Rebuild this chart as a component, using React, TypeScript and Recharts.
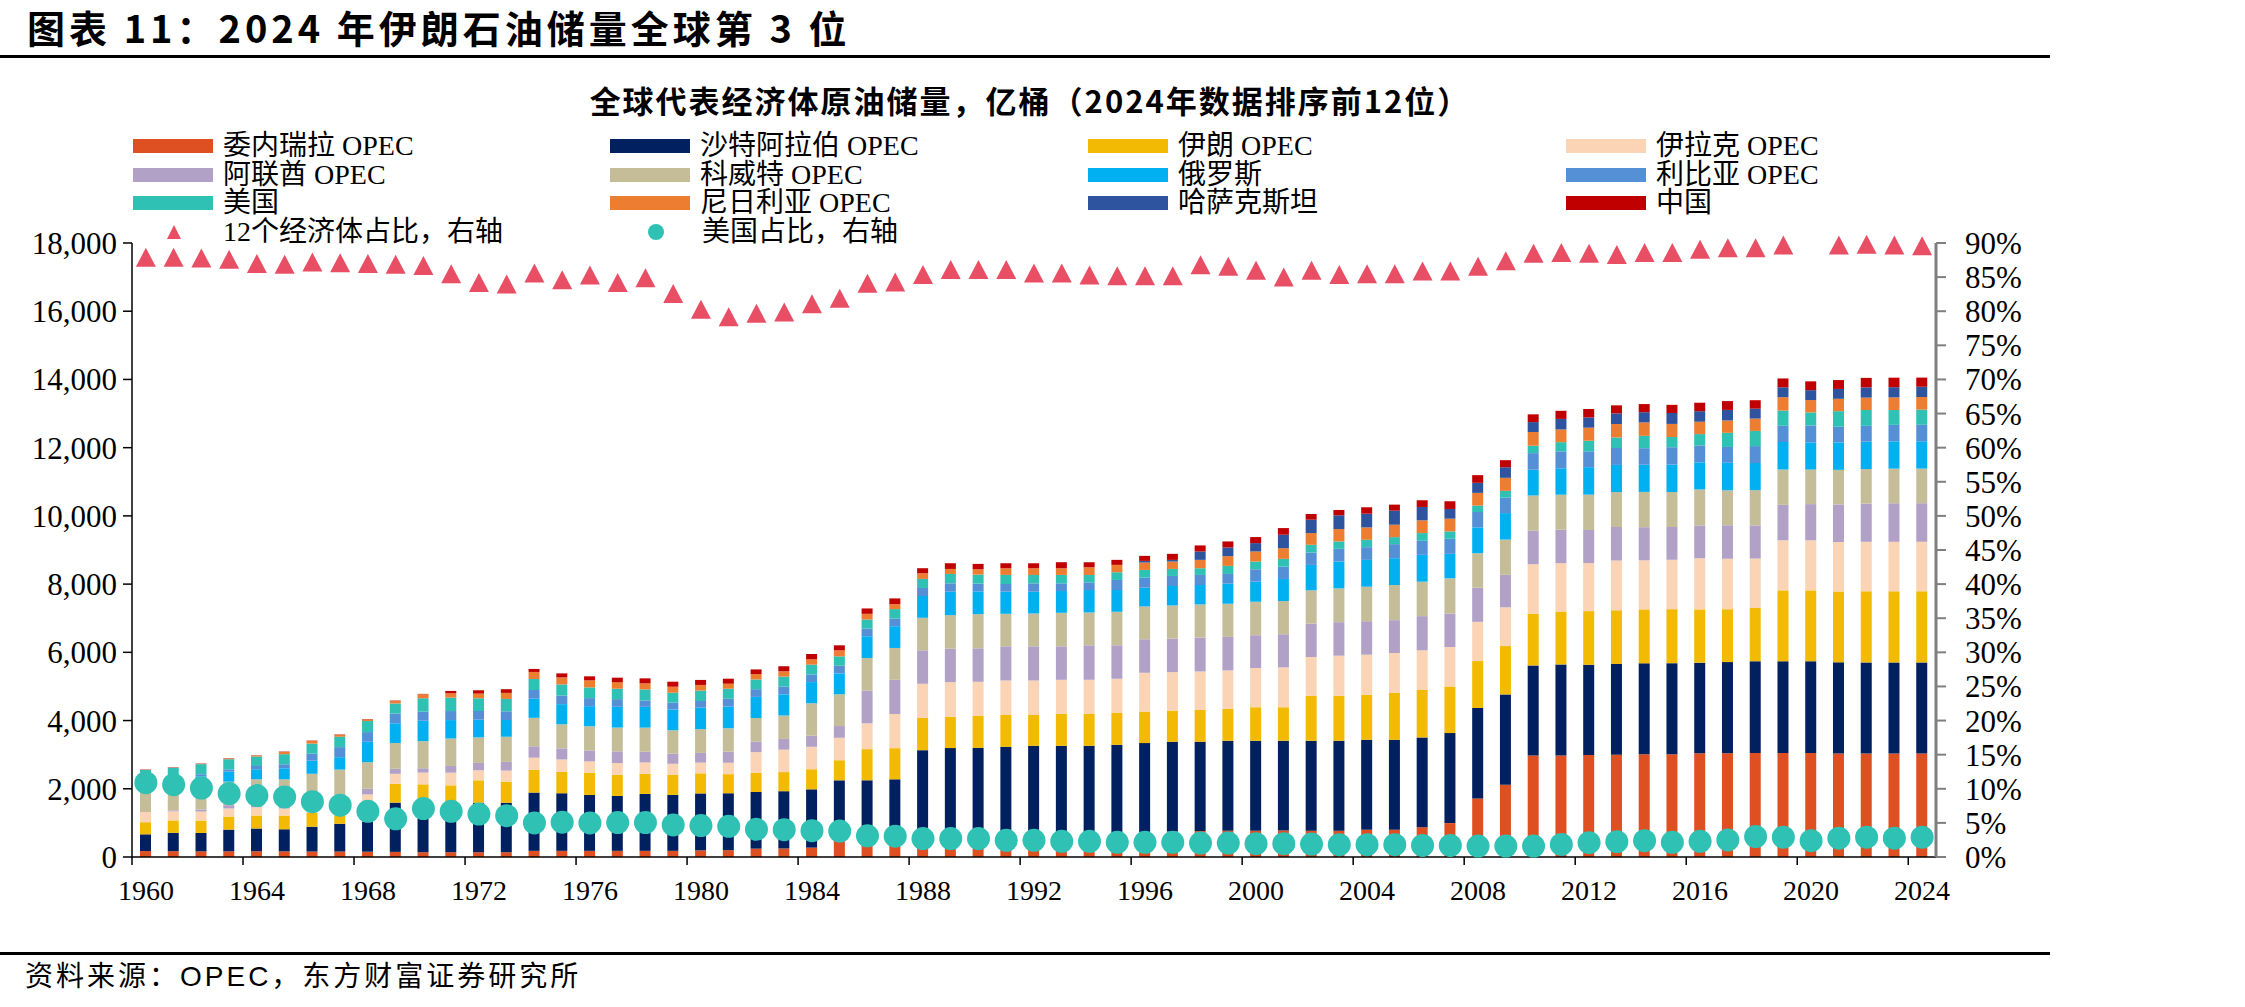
import React from "react";
import { ComposedChart, Bar, Line, XAxis, YAxis } from "recharts";

// 原油储量，亿桶；份额，%
const YEARS = [
  1960, 1961, 1962, 1963, 1964, 1965, 1966, 1967, 1968, 1969,
  1970, 1971, 1972, 1973, 1974, 1975, 1976, 1977, 1978, 1979,
  1980, 1981, 1982, 1983, 1984, 1985, 1986, 1987, 1988, 1989,
  1990, 1991, 1992, 1993, 1994, 1995, 1996, 1997, 1998, 1999,
  2000, 2001, 2002, 2003, 2004, 2005, 2006, 2007, 2008, 2009,
  2010, 2011, 2012, 2013, 2014, 2015, 2016, 2017, 2018, 2019,
  2020, 2021, 2022, 2023, 2024,
];

const VENEZUELA = [
  175, 170, 165, 165, 165, 165, 160, 160, 155, 150,
  140, 140, 140, 140, 180, 180, 180, 180, 180, 180,
  195, 200, 245, 250, 275, 549, 555, 581, 585, 590,
  601, 626, 633, 644, 649, 663, 727, 749, 761, 768,
  768, 777, 773, 772, 797, 800, 873, 994, 1718, 2120,
  2978, 2978, 2990, 2995, 3010, 3015, 3040, 3045, 3050, 3050,
  3050, 3035, 3032, 3032, 3032,
];
const SAUDI = [
  490, 540, 540, 638, 668, 648, 727, 815, 890, 1444,
  1410, 1450, 1450, 1450, 1709, 1689, 1640, 1610, 1669, 1640,
  1669, 1669, 1660, 1679, 1709, 1699, 1694, 1697, 2548, 2602,
  2600, 2605, 2627, 2616, 2611, 2627, 2612, 2629, 2617, 2640,
  2640, 2631, 2635, 2636, 2640, 2637, 2633, 2639, 2651, 2647,
  2637, 2668, 2647, 2667, 2668, 2668, 2658, 2668, 2689, 2689,
  2689, 2672, 2672, 2672, 2673,
];
const IRAN = [
  355, 363, 363, 383, 383, 403, 403, 410, 500, 550,
  580, 510, 658, 619, 668, 628, 648, 619, 589, 589,
  589, 560, 560, 560, 589, 589, 913, 913, 943, 923,
  943, 933, 903, 933, 933, 943, 923, 913, 933, 933,
  982, 982, 1316, 1316, 1316, 1375, 1394, 1365, 1375, 1417,
  1520, 1551, 1572, 1572, 1582, 1582, 1561, 1551, 1561, 2078,
  2078, 2078, 2086, 2086, 2086,
];
const IRAQ = [
  295, 265, 265, 236, 245, 206, 250, 250, 290, 295,
  344, 373, 295, 324, 354, 363, 334, 344, 334, 324,
  314, 334, 609, 658, 658, 658, 756, 1002, 1002, 1011,
  992, 1011, 1011, 1002, 1002, 992, 1139, 1129, 1129, 1129,
  1149, 1169, 1139, 1178, 1178, 1169, 1159, 1159, 1149, 1137,
  1448, 1417, 1406, 1458, 1437, 1448, 1499, 1479, 1448, 1468,
  1468, 1450, 1450, 1450, 1450,
];
const UAE = [
  0, 30, 59, 98, 98, 69, 150, 150, 167, 147,
  128, 196, 216, 255, 334, 324, 324, 344, 314, 295,
  285, 324, 314, 314, 324, 344, 962, 1002, 982, 982,
  982, 1002, 1002, 982, 1011, 982, 982, 982, 992, 982,
  962, 972, 982, 982, 982, 962, 1002, 982, 1002, 951,
  982, 982, 972, 982, 972, 962, 962, 982, 972, 1040,
  1060, 1100, 1120, 1130, 1130,
];
const KUWAIT = [
  650, 650, 640, 687, 717, 786, 750, 778, 776, 756,
  795, 805, 746, 737, 835, 707, 707, 697, 707, 687,
  697, 687, 687, 687, 953, 933, 953, 933, 953, 982,
  1002, 953, 962, 982, 962, 982, 962, 972, 972, 972,
  982, 972, 972, 992, 1011, 1031, 1011, 1031, 1011, 1034,
  1034, 1024, 1034, 1024, 1034, 1024, 1055, 1024, 1034, 1034,
  1013, 1015, 1015, 1015, 1015,
];
const RUSSIA = [
  250, 250, 330, 295, 295, 324, 383, 363, 599, 579,
  599, 540, 520, 491, 560, 589, 589, 609, 609, 609,
  628, 638, 619, 619, 619, 609, 638, 638, 638, 687,
  668, 648, 638, 638, 658, 638, 550, 570, 570, 589,
  589, 648, 746, 786, 786, 786, 786, 717, 756, 776,
  755, 776, 807, 796, 796, 807, 796, 807, 796, 807,
  796, 800, 800, 800, 800,
];
const LIBYA = [
  20, 30, 65, 69, 98, 118, 206, 295, 285, 285,
  265, 265, 255, 255, 255, 255, 236, 226, 187, 206,
  196, 226, 226, 226, 226, 226, 226, 226, 236, 246,
  226, 226, 246, 226, 226, 295, 295, 295, 295, 285,
  363, 363, 363, 373, 373, 412, 412, 442, 452, 455,
  486, 496, 465, 496, 486, 507, 496, 465, 496, 476,
  496, 465, 465, 484, 484,
];
const USA = [
  315, 318, 295, 295, 275, 295, 295, 304, 324, 295,
  393, 393, 373, 363, 324, 324, 314, 304, 324, 285,
  304, 295, 285, 295, 285, 275, 265, 275, 265, 275,
  265, 265, 246, 246, 216, 226, 226, 206, 196, 236,
  226, 226, 226, 216, 216, 206, 226, 216, 187, 196,
  217, 269, 310, 310, 362, 300, 331, 414, 445, 445,
  383, 455, 465, 434, 445,
];
const NIGERIA = [
  5, 6, 10, 20, 30, 69, 79, 59, 49, 79,
  118, 128, 137, 177, 206, 206, 206, 187, 177, 177,
  167, 147, 157, 157, 157, 177, 167, 147, 167, 147,
  157, 196, 196, 196, 226, 216, 216, 216, 246, 285,
  295, 314, 344, 363, 363, 363, 373, 373, 373, 383,
  403, 372, 383, 393, 393, 383, 362, 362, 362, 393,
  362, 362, 362, 370, 370,
];
const KAZAKHSTAN = [
  0, 0, 0, 0, 0, 0, 0, 0, 0, 0,
  0, 0, 0, 0, 0, 0, 0, 0, 0, 0,
  0, 0, 0, 0, 0, 0, 0, 0, 0, 0,
  0, 0, 0, 0, 0, 0, 49, 49, 246, 255,
  246, 393, 393, 403, 403, 412, 393, 285, 295, 310,
  290, 310, 300, 310, 300, 321, 310, 310, 290, 290,
  290, 290, 300, 300, 300,
];
const CHINA = [
  10, 10, 10, 10, 10, 10, 10, 10, 10, 10,
  10, 69, 98, 108, 88, 118, 118, 137, 147, 147,
  147, 147, 137, 147, 157, 147, 157, 167, 147, 167,
  157, 147, 147, 177, 147, 147, 147, 177, 177, 177,
  177, 196, 167, 157, 187, 177, 196, 226, 226, 207,
  227, 238, 248, 238, 238, 238, 248, 259, 248, 259,
  259, 259, 279, 279, 269,
];

// 12个经济体占全球比重（2020年缺值）
const SHARE_12 = [
  87.9, 87.9, 87.8, 87.6, 87.0, 86.9, 87.2, 87.1, 87.0, 86.9,
  86.7, 85.5, 84.2, 84.0, 85.6, 84.6, 85.3, 84.2, 84.9, 82.6,
  80.3, 79.2, 79.7, 79.9, 81.1, 81.9, 84.1, 84.3, 85.4, 86.1,
  86.1, 86.1, 85.6, 85.6, 85.3, 85.2, 85.2, 85.2, 86.8, 86.6,
  86.0, 85.0, 86.0, 85.4, 85.5, 85.5, 85.9, 85.9, 86.6, 87.4,
  88.5, 88.6, 88.5, 88.3, 88.6, 88.6, 89.1, 89.3, 89.3, 89.7,
  null, 89.7, 89.8, 89.7, 89.6,
];
const US_SHARE = [
  10.9, 10.6, 10.1, 9.3, 9.0, 8.8, 8.1, 7.6, 6.7, 5.6,
  7.1, 6.7, 6.3, 6.05, 5.0, 5.1, 5.0, 5.05, 5.05, 4.7,
  4.6, 4.5, 4.05, 4.0, 3.85, 3.8, 3.1, 3.05, 2.7, 2.7,
  2.7, 2.45, 2.45, 2.3, 2.3, 2.15, 2.15, 2.15, 2.05, 2.05,
  1.95, 1.95, 1.9, 1.8, 1.8, 1.8, 1.7, 1.7, 1.6, 1.6,
  1.6, 1.85, 2.1, 2.25, 2.4, 2.15, 2.3, 2.5, 3.0, 2.9,
  2.4, 2.75, 2.9, 2.75, 2.9,
];

const RESERVE_TICKS = [0, 2000, 4000, 6000, 8000, 10000, 12000, 14000, 16000, 18000];
const SHARE_TICKS = [0, 5, 10, 15, 20, 25, 30, 35, 40, 45, 50, 55, 60, 65, 70, 75, 80, 85, 90];

const SERIES = [
  { key: "venezuela", name: "委内瑞拉 OPEC", color: "#DE5021", values: VENEZUELA },
  { key: "saudi", name: "沙特阿拉伯 OPEC", color: "#00205F", values: SAUDI },
  { key: "iran", name: "伊朗 OPEC", color: "#F2BA02", values: IRAN },
  { key: "iraq", name: "伊拉克 OPEC", color: "#FAD4B4", values: IRAQ },
  { key: "uae", name: "阿联酋 OPEC", color: "#B1A1C7", values: UAE },
  { key: "kuwait", name: "科威特 OPEC", color: "#C5BD98", values: KUWAIT },
  { key: "russia", name: "俄罗斯", color: "#00B0F0", values: RUSSIA },
  { key: "libya", name: "利比亚 OPEC", color: "#5590D6", values: LIBYA },
  { key: "usa", name: "美国", color: "#2FC1B4", values: USA },
  { key: "nigeria", name: "尼日利亚 OPEC", color: "#ED7D31", values: NIGERIA },
  { key: "kazakhstan", name: "哈萨克斯坦", color: "#2E549F", values: KAZAKHSTAN },
  { key: "china", name: "中国", color: "#C00000", values: CHINA },
];

const TRI_COLOR = "#E84F65";
const DOT_COLOR = "#2FC1B4";

const rows = YEARS.map((year, i) => {
  const row: Record<string, number | null> = { year };
  SERIES.forEach((s) => (row[s.key] = s.values[i]));
  row.share12 = SHARE_12[i];
  row.usShare = US_SHARE[i];
  return row;
});

const W = 2245;
const H = 1007;
const PLOT_LEFT = 132;
const PLOT_RIGHT = 1936;
const PLOT_TOP = 243;
const PLOT_BOTTOM = 857;
const X_AXIS_H = 60;
const RIGHT_AXIS_W = 100;
const BAND = (PLOT_RIGHT - PLOT_LEFT) / YEARS.length;

const SERIF = "'Liberation Serif', 'Noto Sans CJK SC', serif";
const HEI = "'Noto Sans CJK SC', 'Liberation Sans', sans-serif";

// 年份标签居中，刻度线落在类目边界
const YearTick = (props: any) => {
  const { x, y, payload } = props;
  const bx = x - BAND / 2;
  return (
    <g>
      <line x1={bx} x2={bx} y1={y} y2={y + 8} stroke="#000" strokeWidth={1.5} />
      <text x={x} y={y + 43} textAnchor="middle" fontSize={28} fontFamily={SERIF} fill="#000">
        {payload.value}
      </text>
    </g>
  );
};

const TriangleDot = (props: any) => {
  const { cx, cy, index } = props;
  if (cx == null || cy == null || Number.isNaN(cy)) return <g key={`tri-${index}`} />;
  const w = 20;
  const h = 19;
  return (
    <path
      key={`tri-${index}`}
      d={`M${cx},${cy - h / 2}L${cx + w / 2},${cy + h / 2}L${cx - w / 2},${cy + h / 2}Z`}
      fill={TRI_COLOR}
    />
  );
};

const CircleDot = (props: any) => {
  const { cx, cy, index } = props;
  if (cx == null || cy == null || Number.isNaN(cy)) return <g key={`dot-${index}`} />;
  return <ellipse key={`dot-${index}`} cx={cx} cy={cy} rx={11.5} ry={11.5} fill={DOT_COLOR} />;
};

const LEGEND_COLS = [133, 610, 1088, 1566];
const LEGEND_ROWS = [146, 175, 203];

function LegendBlock() {
  const textStyle: React.CSSProperties = {
    position: "absolute",
    fontFamily: SERIF,
    fontSize: 28,
    lineHeight: "30px",
    whiteSpace: "nowrap",
    color: "#000",
  };
  return (
    <>
      {SERIES.map((s, i) => {
        const col = LEGEND_COLS[i % 4];
        const cy = LEGEND_ROWS[Math.floor(i / 4)];
        return (
          <React.Fragment key={s.key}>
            <div
              style={{ position: "absolute", left: col, top: cy - 7, width: 80, height: 14, background: s.color }}
            />
            <div style={{ ...textStyle, left: col + 90, top: cy - 15 }}>{s.name}</div>
          </React.Fragment>
        );
      })}
      <svg style={{ position: "absolute", left: 0, top: 0 }} width={W} height={260}>
        <path d="M174,225L181,239L167,239Z" fill={TRI_COLOR} />
        <circle cx={656} cy={232} r={8} fill={DOT_COLOR} />
      </svg>
      <div style={{ ...textStyle, left: 223, top: 232 - 15 }}>12个经济体占比，右轴</div>
      <div style={{ ...textStyle, left: 702, top: 232 - 15 }}>美国占比，右轴</div>
    </>
  );
}

export default function App() {
  return (
    <div
      style={{
        position: "absolute",
        left: 0,
        top: 0,
        width: W,
        height: H,
        background: "#fff",
        overflow: "hidden",
      }}
    >
      <div
        style={{
          position: "absolute",
          left: 27,
          top: 7,
          fontFamily: HEI,
          fontWeight: 700,
          fontSize: 38,
          lineHeight: "40px",
          letterSpacing: 4,
          whiteSpace: "nowrap",
          color: "#000",
        }}
      >
        图表 11：2024 年伊朗石油储量全球第 3 位
      </div>
      <div style={{ position: "absolute", left: 0, top: 55, width: 2050, height: 2.5, background: "#000" }} />

      <div
        style={{
          position: "absolute",
          left: 0,
          top: 83,
          width: 2060,
          textAlign: "center",
          fontFamily: HEI,
          fontWeight: 700,
          fontSize: 31,
          lineHeight: "34px",
          letterSpacing: 2,
          whiteSpace: "nowrap",
          color: "#000",
        }}
      >
        全球代表经济体原油储量，亿桶（2024年数据排序前12位）
      </div>

      <LegendBlock />

      <div style={{ position: "absolute", left: 0, top: 0 }}>
        <ComposedChart
          width={W}
          height={H}
          data={rows}
          barSize={11}
          margin={{
            top: PLOT_TOP,
            left: 0,
            right: W - PLOT_RIGHT - RIGHT_AXIS_W,
            bottom: H - PLOT_BOTTOM - X_AXIS_H,
          }}
        >
          <XAxis
            dataKey="year"
            height={X_AXIS_H}
            interval={3}
            tickSize={0}
            tickMargin={0}
            tickLine={false}
            axisLine={{ stroke: "#000", strokeWidth: 1.5 }}
            tick={<YearTick />}
          />
          <YAxis
            yAxisId="left"
            width={PLOT_LEFT}
            domain={[0, 18000]}
            ticks={RESERVE_TICKS}
            interval={0}
            tickFormatter={(v: number) => v.toLocaleString("en-US")}
            tickSize={9}
            tickMargin={6}
            axisLine={{ stroke: "#000", strokeWidth: 1.5 }}
            tickLine={{ stroke: "#000", strokeWidth: 1.5 }}
            tick={{ fontSize: 31, fill: "#000", fontFamily: SERIF }}
          />
          <YAxis
            yAxisId="right"
            orientation="right"
            width={RIGHT_AXIS_W}
            domain={[0, 90]}
            ticks={SHARE_TICKS}
            interval={0}
            tickFormatter={(v: number) => `${v}%`}
            tickSize={10}
            tickMargin={19}
            axisLine={{ stroke: "#7F7F7F", strokeWidth: 3 }}
            tickLine={{ stroke: "#7F7F7F", strokeWidth: 2 }}
            tick={{ fontSize: 31, fill: "#000", fontFamily: SERIF, textAnchor: "start" }}
          />
          {SERIES.map((s) => (
            <Bar
              key={s.key}
              dataKey={s.key}
              name={s.name}
              stackId="reserves"
              yAxisId="left"
              fill={s.color}
              isAnimationActive={false}
            />
          ))}
          <Line
            dataKey="share12"
            yAxisId="right"
            stroke="none"
            dot={TriangleDot}
            activeDot={false}
            legendType="none"
            isAnimationActive={false}
          />
          <Line
            dataKey="usShare"
            yAxisId="right"
            stroke="none"
            dot={CircleDot}
            activeDot={false}
            legendType="none"
            isAnimationActive={false}
          />
        </ComposedChart>
      </div>

      <div style={{ position: "absolute", left: 0, top: 952, width: 2050, height: 2.5, background: "#000" }} />
      <div
        style={{
          position: "absolute",
          left: 25,
          top: 962,
          fontFamily: "'Liberation Sans', 'Noto Sans CJK SC', sans-serif",
          fontSize: 28,
          lineHeight: "30px",
          letterSpacing: 3,
          whiteSpace: "nowrap",
          color: "#000",
        }}
      >
        资料来源：OPEC，东方财富证券研究所
      </div>
    </div>
  );
}
